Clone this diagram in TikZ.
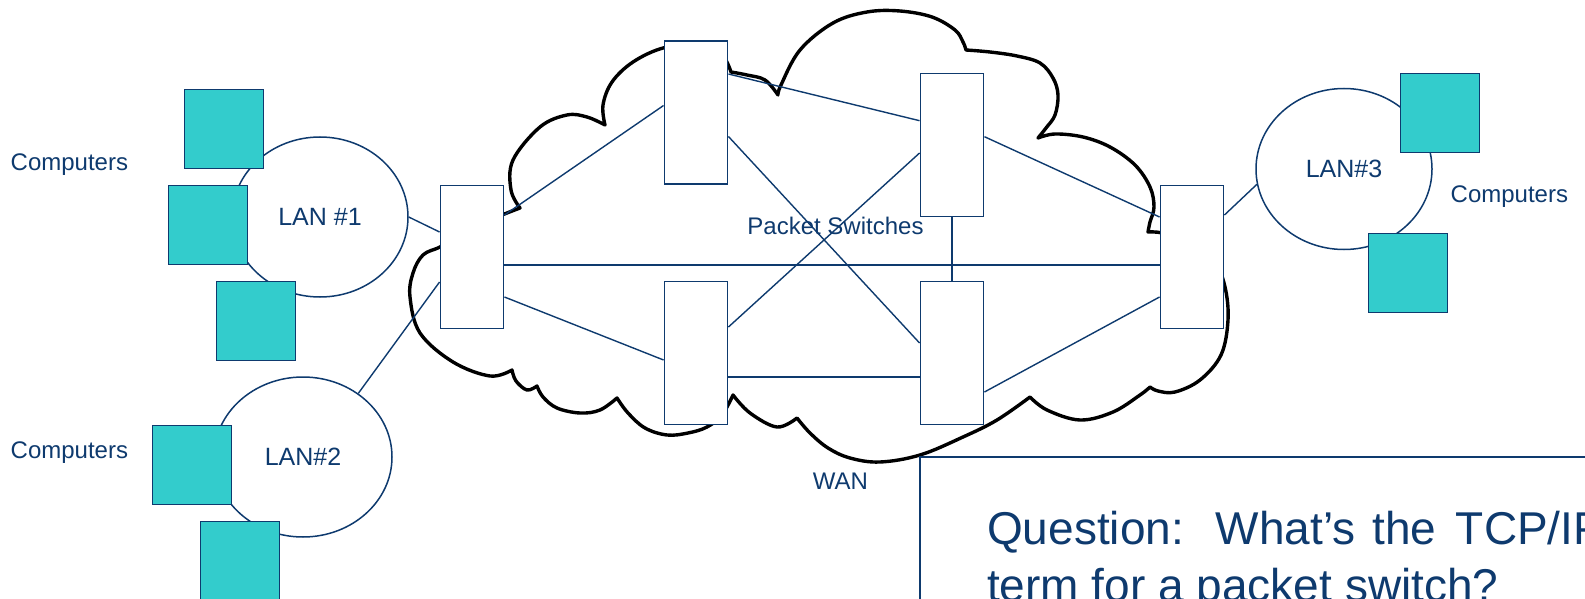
\documentclass[tikz,border=0pt]{standalone}
\usepackage{fontspec}
\setmainfont{Liberation Sans}
\usetikzlibrary{calc,shapes.geometric}
\definecolor{navy}{RGB}{14,58,110}
\definecolor{comp}{RGB}{51,204,204}
\begin{document}
\begin{tikzpicture}[x=1pt,y=-1pt,
  sw/.style={rectangle,draw=navy,line width=1.9pt,fill=white,minimum width=63,minimum height=143,inner sep=0},
  pc/.style={rectangle,draw=navy,line width=1.9pt,fill=comp,minimum size=79,inner sep=0},
  lan/.style={ellipse,draw=navy,line width=1.5pt,fill=white,inner sep=0,text=navy,font=\fontsize{25}{29}\selectfont},
  link/.style={draw=navy,line width=1.4pt},
  lbl/.style={text=navy,inner sep=0,font=\fontsize{24}{28}\selectfont,anchor=base west},
  qtext/.style={text=navy,inner sep=0,font=\fontsize{46}{56}\selectfont,anchor=base west},
  cloudline/.style={draw=black,line width=3.4pt,line join=round,line cap=round},
  lobe/.style={smooth,tension=.6}]
\useasboundingbox (0,0) rectangle (1585,599);
\clip (0,0) rectangle (1585,599);

% cloud
\draw[cloudline] plot[lobe] coordinates {(520,208) (511,190) (513,160) (540,127) (567,115) (587,117) (605,125)}
 -- plot[lobe] coordinates {(605,125) (603,105) (612,82) (633,62) (663,48) (695,45) (720,52) (731,72)}
 -- plot[lobe] coordinates {(731,72) (747,75) (765,80) (778,95)}
 -- plot[lobe] coordinates {(778,95) (781,85) (800,50) (833,23) (867,12) (900,11) (932,17) (955,30) (963,42) (966,50)}
 -- plot[lobe] coordinates {(966,50) (990,52) (1017,56) (1040,63) (1053,78) (1058,95) (1055,115) (1046,128) (1038,138)}
 -- plot[lobe] coordinates {(1038,138) (1055,134) (1083,137) (1110,147) (1135,165) (1150,187) (1154,207) (1150,222) (1148,232)}
 -- plot[lobe] coordinates {(1148,232) (1162,233) (1192,242) (1214,260) (1225,287) (1228,320) (1221,355) (1200,380) (1175,392) (1158,391) (1150,387)}
 -- plot[lobe] coordinates {(1150,387) (1140,395) (1113,412) (1080,420) (1047,410) (1030,397)}
 -- plot[lobe] coordinates {(1030,397) (997,420) (963,437) (920,455) (880,462) (850,458) (828,448) (810,433) (797,418)}
 -- plot[lobe] coordinates {(797,418) (777,427) (750,413) (733,395)}
 -- plot[lobe] coordinates {(733,395) (722,415) (707,427) (688,433) (667,435) (645,428) (628,413) (617,398)}
 -- plot[lobe] coordinates {(617,398) (600,410) (580,413) (557,408) (543,397) (537,386)}
 -- plot[lobe] coordinates {(537,386) (527,390) (516,381) (512,370)}
 -- plot[lobe] coordinates {(512,370) (490,376) (453,362) (420,333) (410,297) (413,273) (423,255) (440,247) (465,234) (490,220) (507,213) (520,208)}
 -- cycle;

% LANs
\node[lan,minimum width=176,minimum height=160] (L1) at (320,217) {LAN \#1};
\node[lan,minimum width=178,minimum height=160] (L2) at (303,457) {LAN\#2};
\node[lan,minimum width=176,minimum height=161] (L3) at (1344,169) {LAN\#3};

% packet switches
\node[sw] (A) at (472,257) {};
\node[sw] (B) at (696,112.5) {};
\node[sw] (C) at (952,145) {};
\node[sw] (D) at (696,353) {};
\node[sw] (E) at (952,353) {};
\node[sw] (F) at (1192,257) {};

% links
\draw[link] ($(A.east)+(0,-42)$) -- ($(B.west)+(0,-7)$);
\draw[link] ($(B.east)+(0,-38.5)$) -- ($(C.west)+(0,-24.3)$);
\draw[link] ($(B.east)+(0,24)$) -- ($(E.west)+(0,-10)$);
\draw[link] ($(A.east)+(0,8)$) -- ($(F.west)+(0,8)$);
\draw[link] (C.south) -- (E.north);
\draw[link] ($(D.east)+(0,-26)$) -- ($(C.west)+(0,8)$);
\draw[link] ($(C.east)+(0,-8.3)$) -- ($(F.west)+(0,-40)$);
\draw[link] ($(A.east)+(0,40)$) -- ($(D.west)+(0,7)$);
\draw[link] ($(D.east)+(0,24)$) -- ($(E.west)+(0,24)$);
\draw[link] ($(E.east)+(0,39)$) -- ($(F.west)+(0,40)$);
\draw[link] ($(F.east)+(0,-42)$) -- (L3.190);
\draw[link] ($(A.west)+(0,-25)$) -- (L1.east);
\draw[link] ($(A.west)+(0,25)$) -- (L2.49);

% computers
\node[pc] (S1) at (224,129) {};
\node[pc] (S2) at (208,225) {};
\node[pc] (S3) at (256,321) {};
\node[pc] (S4) at (192,465) {};
\node[pc] (S5) at (240,561) {};
\node[pc] (S6) at (1440,113) {};
\node[pc] (S7) at (1408,273) {};

% labels
\node[lbl] (c1) at (10.5,170.7) {Computers};
\node[lbl] (c2) at (10.5,458.7) {Computers};
\node[lbl] (c3) at (1450.5,202.7) {Computers};
\node[lbl,anchor=base] (ps) at (835.5,234.3) {Packet Switches};
\node[lbl,anchor=base] (wan) at (840.3,489.3) {WAN};

% question box
\draw[navy,line width=1.9pt] (920,640) -- (920,457) -- (1640,457);
\node[qtext] (q1) at (987,544) {Question:\hspace{31.6pt}What’s\hspace{16.8pt}the\hspace{19.8pt}TCP/IP};
\node[qtext] (q2) at (987,601) {term for a packet switch?};
\end{tikzpicture}
\end{document}
